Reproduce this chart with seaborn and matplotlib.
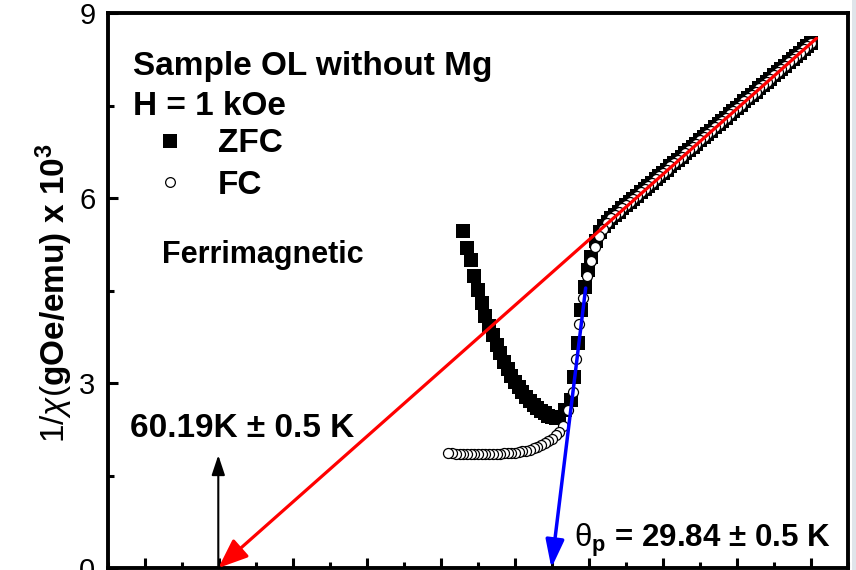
import numpy as np
import pandas as pd
import matplotlib
matplotlib.use("Agg")
import matplotlib.pyplot as plt
from matplotlib.lines import Line2D
from matplotlib.patches import Rectangle
from matplotlib.ticker import MultipleLocator
import seaborn as sns

# ---- data: inverse susceptibility (x 10^3 gOe/emu) versus temperature (K) ----
# ZFC branch below the transition
t_zfc_low = [6, 7, 8, 9, 10, 11, 12, 13, 14, 15, 16, 17, 18, 19, 20, 21, 22, 23, 24,
             25, 26, 27, 28, 29, 30, 31, 32, 33.5, 35, 36, 37, 37.9, 39, 39.7, 40.5,
             41.8, 43, 44, 45]
inv_chi_zfc_low = [5.46, 5.19, 4.99, 4.74, 4.51, 4.30, 4.09, 3.92, 3.78, 3.62, 3.48,
                   3.34, 3.22, 3.11, 3.01, 2.93, 2.85, 2.78, 2.71, 2.65, 2.60, 2.55,
                   2.51, 2.47, 2.45, 2.43, 2.44, 2.56, 2.72, 3.10, 3.65, 4.18, 4.56,
                   4.83, 5.05, 5.30, 5.45, 5.55, 5.61]

# FC branch below the transition
t_fc_low = [2, 3, 4, 5, 6, 7, 8, 9, 10, 11, 12, 13, 14, 15, 16, 17, 18, 19, 20, 21,
            22, 23, 24, 25, 26, 27, 28, 29, 30, 31, 32, 33, 34.4, 35.6, 36.4, 37.4,
            38.4, 39.4, 40.6, 41.5, 42.6, 43.7, 44.8]
inv_chi_fc_low = [1.86, 1.86, 1.855, 1.85, 1.85, 1.85, 1.85, 1.85, 1.85, 1.85, 1.85,
                  1.85, 1.85, 1.85, 1.855, 1.86, 1.86, 1.865, 1.87, 1.88, 1.89, 1.90,
                  1.92, 1.94, 1.96, 1.99, 2.02, 2.06, 2.10, 2.15, 2.21, 2.30, 2.56,
                  2.85, 3.39, 3.95, 4.38, 4.73, 4.98, 5.21, 5.38, 5.50, 5.59]

# common paramagnetic branch (ZFC and FC coincide)
t_para = list(range(46, 101))
inv_chi_para = [5.67, 5.73, 5.78, 5.83, 5.88, 5.94, 5.99, 6.04, 6.09, 6.15, 6.20,
                6.25, 6.31, 6.36, 6.41, 6.46, 6.52, 6.57, 6.62, 6.67, 6.73, 6.78,
                6.83, 6.88, 6.94, 6.99, 7.04, 7.09, 7.15, 7.20, 7.25, 7.30, 7.36,
                7.41, 7.46, 7.51, 7.57, 7.62, 7.67, 7.72, 7.78, 7.83, 7.88, 7.93,
                7.99, 8.04, 8.09, 8.14, 8.20, 8.25, 8.30, 8.35, 8.41, 8.46, 8.51]

# Curie-Weiss extrapolations
theta_ferri = -60.19          # high-T linear fit crosses the T axis here
ferri_fit_start = (101.5, 8.59)
theta_p = 29.84               # steep fit just above the transition
theta_p_fit_start = (39.1, 4.54)
ferri_marker_top = 1.83

y_ticks = [0, 3, 6, 9]
x_ticks = [-80, -60, -40, -20, 0, 20, 40, 60, 80, 100]

zfc = pd.DataFrame({"T": t_zfc_low + t_para, "inv_chi": inv_chi_zfc_low + inv_chi_para})
fc = pd.DataFrame({"T": t_fc_low + t_para, "inv_chi": inv_chi_fc_low + inv_chi_para})
# FC curve was recorded while cooling: plot from high to low temperature
fc = fc.sort_values("T", ascending=False)

# ---- styling ----
sns.set_theme(style="ticks")
plt.rcParams["font.family"] = ["Liberation Sans", "DejaVu Sans"]
plt.rcParams["mathtext.fontset"] = "custom"
plt.rcParams["mathtext.rm"] = "Liberation Sans"
plt.rcParams["mathtext.it"] = "Liberation Sans:italic"
plt.rcParams["mathtext.bf"] = "Liberation Sans:bold"
for key in ("text.color", "axes.labelcolor", "xtick.color", "ytick.color",
            "axes.edgecolor", "legend.labelcolor"):
    plt.rcParams[key] = "black"

fig = plt.figure(figsize=(8.56, 5.70), dpi=100)
fig.patch.set_facecolor("white")
ax = fig.add_axes([108 / 856, 2 / 570, 740 / 856, 555 / 570])

sns.scatterplot(data=zfc, x="T", y="inv_chi", marker="s", s=88, color="black",
                linewidth=0, ax=ax, zorder=2, legend=False)
sns.scatterplot(data=fc, x="T", y="inv_chi", marker="o", s=52, facecolor="white",
                edgecolor="black", linewidth=0.9, ax=ax, zorder=3, legend=False)

ax.set_xlim(-90, 110)
ax.set_ylim(0, 9)
ax.set_xticks(x_ticks)
ax.set_yticks(y_ticks)
ax.xaxis.set_minor_locator(MultipleLocator(10))
ax.yaxis.set_minor_locator(MultipleLocator(1.5))
ax.tick_params(which="both", direction="in", width=2.2, top=False, right=False,
               labelsize=21, pad=9, colors="black")
ax.tick_params(which="major", length=7.5)
ax.tick_params(which="minor", length=4)
for sp in ax.spines.values():
    sp.set_linewidth(2.8)
    sp.set_color("black")
    sp.set_visible(True)

ax.set_xlabel("")
ax.set_ylabel(r"1/$\chi$($\mathbf{gOe/emu)\ x\ 10^3}$", fontsize=24, color="black")
ax.yaxis.set_label_coords(-0.045, 0.495)

# fit lines with arrows pointing at the T-axis intercepts
ax.annotate("", xy=(theta_ferri, 0), xytext=ferri_fit_start, annotation_clip=False,
            arrowprops=dict(arrowstyle="-|>,head_length=0.9,head_width=0.36",
                            color="#ff0000", lw=2.3, shrinkA=0, shrinkB=0,
                            mutation_scale=20), zorder=5)
ax.annotate("", xy=(theta_p, 0), xytext=theta_p_fit_start, annotation_clip=False,
            arrowprops=dict(arrowstyle="-|>,head_length=0.85,head_width=0.28",
                            color="#0000ff", lw=2.5, shrinkA=0, shrinkB=0,
                            mutation_scale=20), zorder=6)
ax.annotate("", xy=(theta_ferri, ferri_marker_top), xytext=(theta_ferri, 0),
            annotation_clip=False,
            arrowprops=dict(arrowstyle="-|>,head_length=0.6,head_width=0.2",
                            color="black", lw=1.5, shrinkA=0, shrinkB=0,
                            mutation_scale=20), zorder=5)

bold = dict(transform=ax.transAxes, fontweight="bold", color="black", va="baseline")
ax.text(0.034, 0.888, "Sample OL without Mg", fontsize=24, **bold)
ax.text(0.034, 0.816, "H = 1 kOe", fontsize=24, **bold)
ax.text(0.073, 0.550, "Ferrimagnetic", fontsize=22, **bold)
ax.text(0.030, 0.236, "60.19K \u00b1 0.5 K", fontsize=24, **bold)
ax.text(0.630, 0.038, r"$\mathrm{\theta}_{\mathbf{p}}$" + " = 29.84 \u00b1 0.5 K",
        fontsize=22.5, **bold)

handles = [Line2D([], [], ls="none", marker="s", ms=9.5, mfc="black", mec="black", mew=0),
           Line2D([], [], ls="none", marker="o", ms=7, mfc="white", mec="black", mew=0.9)]
leg = ax.legend(handles, ["ZFC", "FC"], loc="upper left", bbox_to_anchor=(0.063, 0.792),
                frameon=False, borderaxespad=0, borderpad=0, handlelength=0.95,
                handletextpad=0.95, labelspacing=0.32, labelcolor="black",
                prop=dict(family=["Liberation Sans"], weight="bold", size=24))

# light edge strip at the right border
fig.patches.append(Rectangle((852 / 856, 0), 4 / 856, 1, transform=fig.transFigure,
                             facecolor="#dfe4ea", edgecolor="none", zorder=0))

fig.savefig("out.png", dpi=100)
